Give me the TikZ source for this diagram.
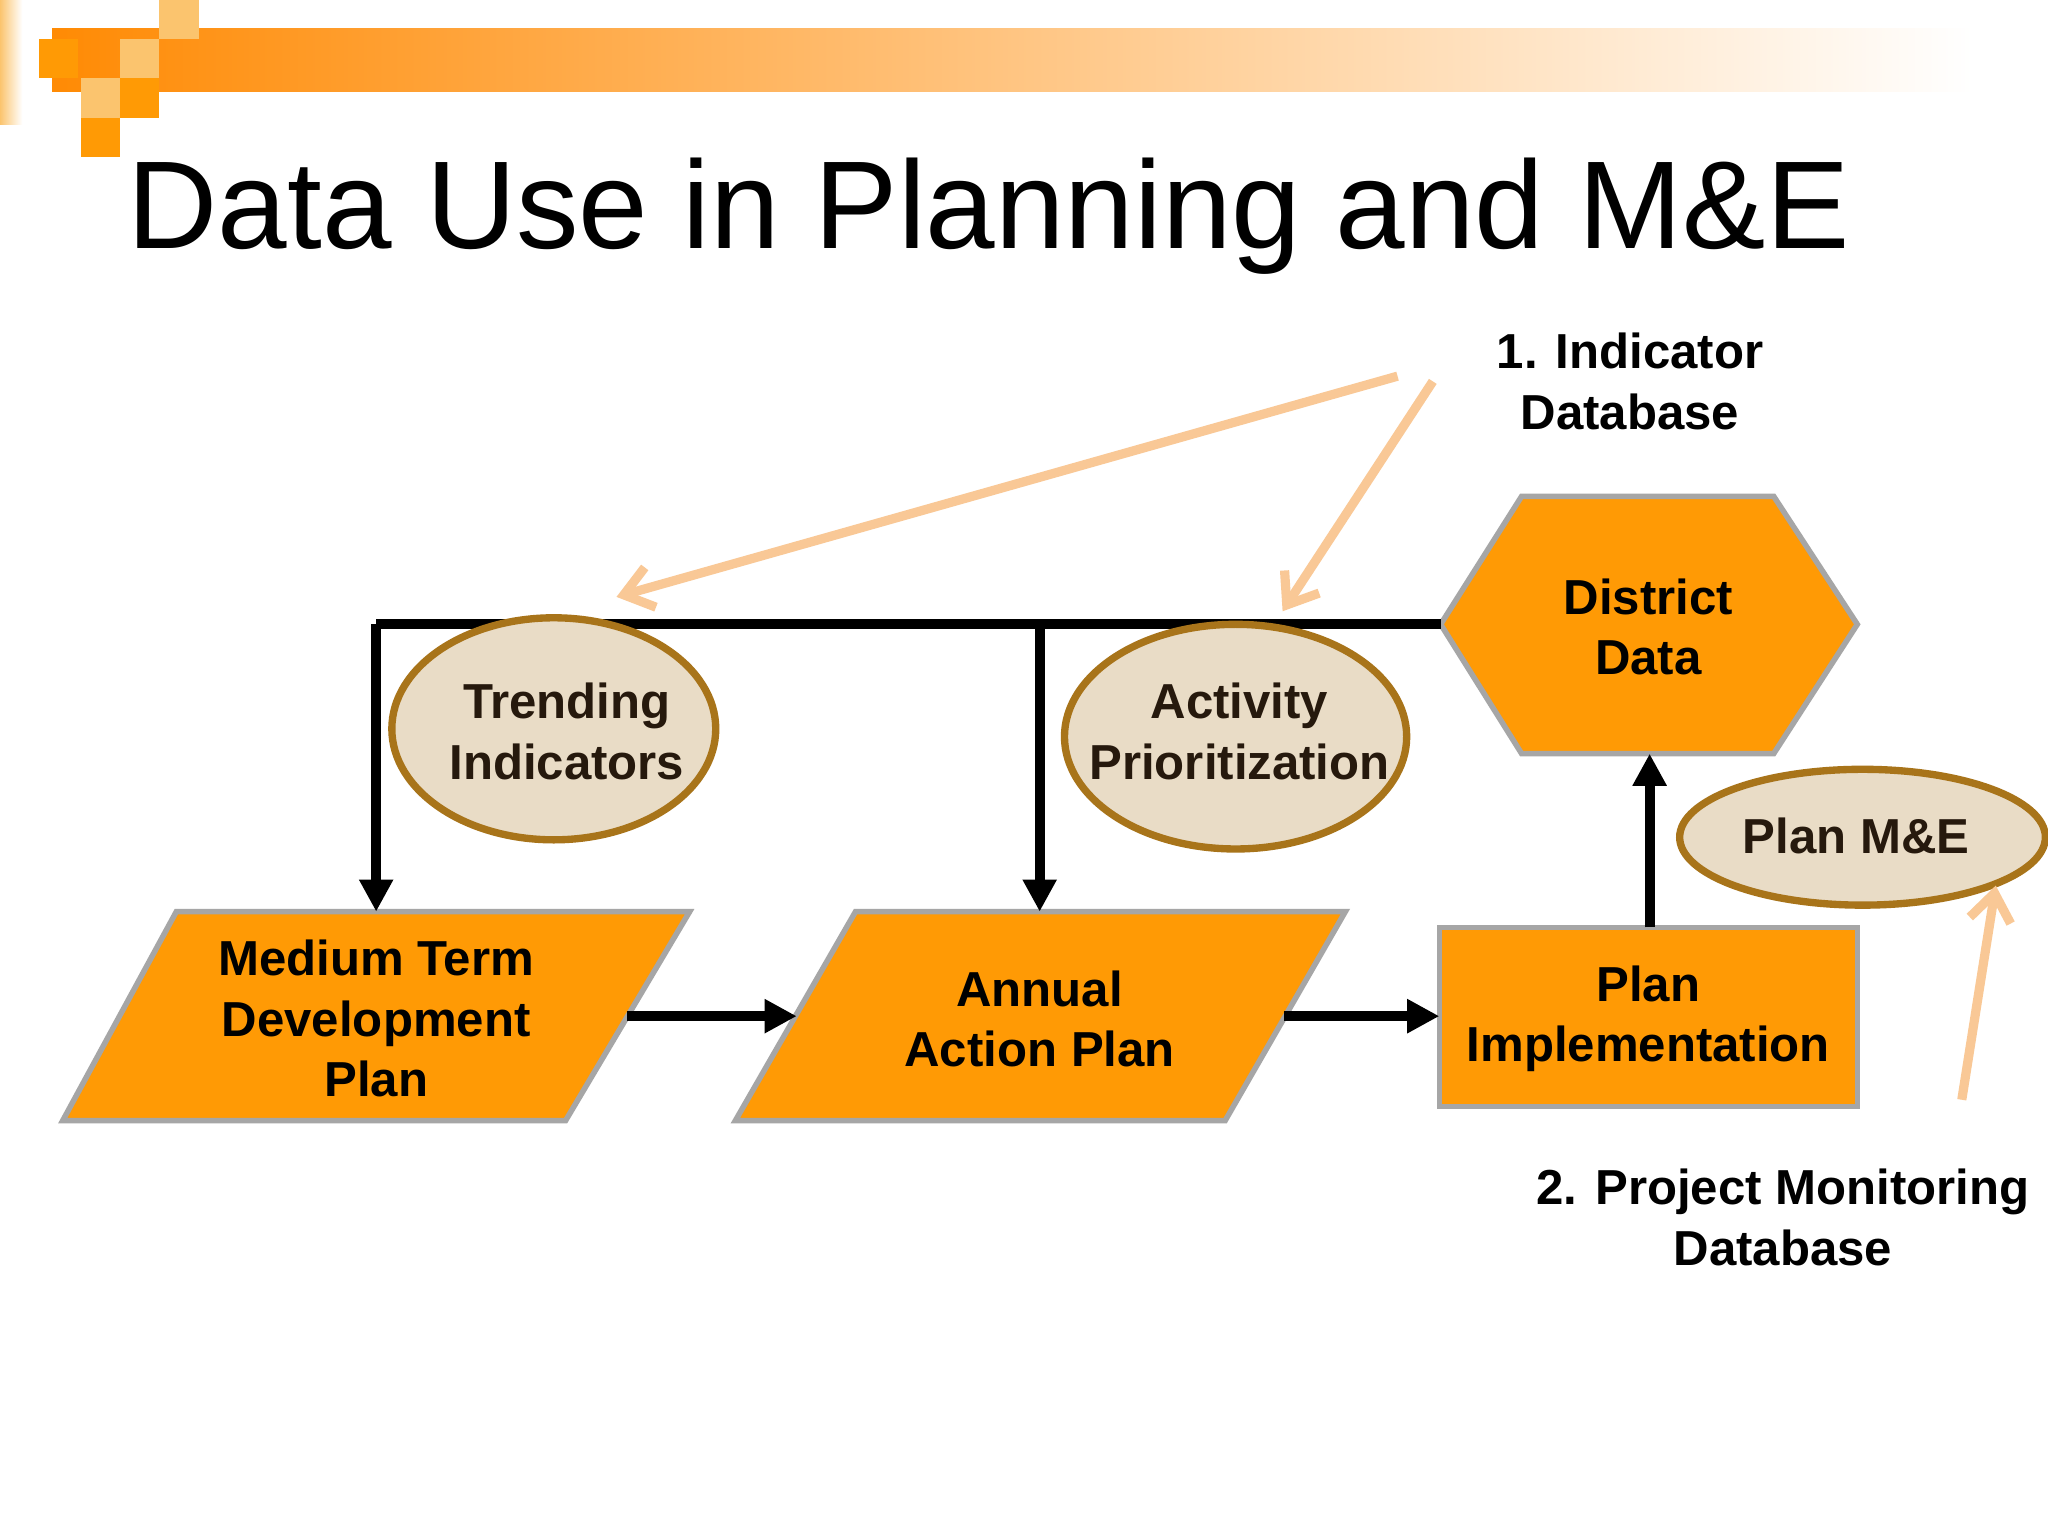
\documentclass[tikz,border=0pt]{standalone}
\usepackage{fontspec}
\setmainfont{Liberation Sans}
\usetikzlibrary{arrows.meta,shapes.geometric}
\definecolor{org}{HTML}{FF9A05}
\definecolor{lor}{HTML}{FBC46E}
\definecolor{tan}{HTML}{E9DCC6}
\definecolor{brn}{HTML}{A8741A}
\definecolor{pch}{HTML}{F9C896}
\tikzset{
 x=0.01cm,y=-0.01cm,
 box/.style={fill=org,draw=gray!70,line width=1.2pt},
 ell/.style={fill=tan,draw=brn,line width=1.6pt},
 lbl/.style={font=\fontsize{10.7}{13.2}\selectfont\bfseries,align=center,text=black},
 blk/.style={line width=2.2pt,-{Triangle[length=7pt,width=7pt]}},
 pk/.style={draw=pch,line width=2pt,-{Straight Barb[length=6pt,width=9pt]}},
}
\begin{document}
\begin{tikzpicture}
\useasboundingbox (0,0) rectangle (1568,1176);
\fill[white] (0,0) rectangle (1568,1176);
% header
\shade[left color=org!90!red,right color=white] (40,22) rectangle (1510,70);
\shade[left color=lor,right color=white] (0,0) rectangle (17,95);
\fill[org] (30,30) rectangle (60,60);
\fill[lor] (62,60) rectangle (92,90);
\fill[org] (62,90) rectangle (92,120);
\fill[lor] (92,30) rectangle (122,60);
\fill[org] (92,60) rectangle (122,90);
\fill[lor] (122,0) rectangle (152,30);
\node[anchor=base west,font=\fontsize{27.2}{32}\selectfont,inner sep=0] (title) at (97,190) {Data Use in Planning and M\&E};
% shapes
\draw[box] (48,858) -- (135,698) -- (528,698) -- (433,858) -- cycle;
\draw[box] (563,858) -- (655,698) -- (1030,698) -- (938,858) -- cycle;
\draw[box] (1102,710) rectangle (1422,847);
\draw[box] (1103,478) -- (1165,380) -- (1358,380) -- (1422,478) -- (1358,577) -- (1165,577) -- cycle;
\node[lbl] (mtdp) at (288,780) {Medium Term\\Development\\Plan};
\node[lbl] (aap) at (796,780) {Annual\\Action Plan};
\node[lbl] (pi) at (1262,780) {Plan\\Implementation};
\node[lbl] (dd) at (1262,480) {District\\Data};
\coordinate (pib) at (1263,710);
\coordinate (ddb) at (1263,577);
\coordinate (ddl) at (1103,478);
\coordinate (c1) at (288,478);
\coordinate (c2) at (796,478);
\coordinate (m1) at (288,698);
\coordinate (m2) at (796,698);
\coordinate (a1) at (480,778);
\coordinate (a2) at (610,778);
\coordinate (b1) at (983,778);
\coordinate (b2) at (1102,778);
% black connectors
\draw[line width=2.2pt] (ddl) -- (c1);
\draw[blk] (c1) -- (m1);
\draw[blk] (c2) -- (m2);
\draw[blk] (a1) -- (a2);
\draw[blk] (b1) -- (b2);
\draw[blk] (pib) -- (ddb);
% ellipses
\draw[ell] (424,558) ellipse [x radius=124, y radius=85];
\draw[ell] (946,564) ellipse [x radius=131, y radius=86];
\draw[ell] (1426,641) ellipse [x radius=140, y radius=52];
\node[lbl,text=black!80!brown] (ti) at (434,560) {Trending\\Indicators};
\node[lbl,text=black!80!brown] (ap) at (949,560) {Activity\\Prioritization};
\node[lbl,text=black!80!brown] (pme) at (1421,640) {Plan M\&E};
% annotations
\node[lbl] (ind) at (1248,292) {1. Indicator\\Database};
\node[lbl] (pmd) at (1365,932) {2. Project Monitoring\\Database};
\coordinate (p1) at (1070,288);
\coordinate (p2) at (1097,292);
\coordinate (p3) at (1502,842);
\draw[pk] (p1) -- (472,457);
\draw[pk] (p2) -- (982,468);
\draw[pk] (p3) -- (1528,678);
\end{tikzpicture}
\end{document}
